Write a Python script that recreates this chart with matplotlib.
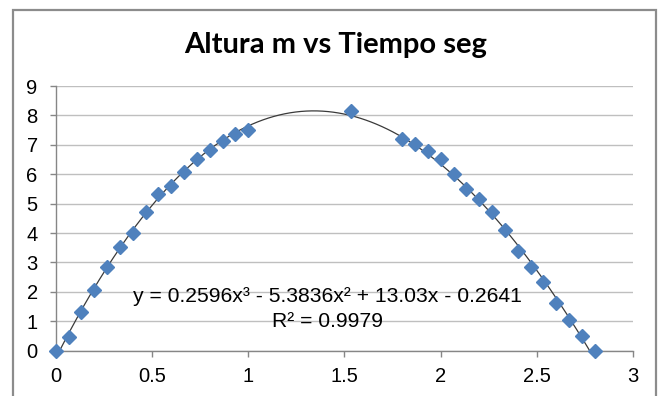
import numpy as np
import matplotlib
matplotlib.use("Agg")
import matplotlib.pyplot as plt
from matplotlib.patches import Rectangle

# Data
tiempo = [0.0, 0.067, 0.133, 0.2, 0.267, 0.333, 0.4, 0.467, 0.533, 0.6, 0.667,
          0.733, 0.8, 0.867, 0.933, 1.0, 1.533,
          1.8, 1.867, 1.933, 2.0, 2.067, 2.133, 2.2, 2.267, 2.333, 2.4,
          2.467, 2.533, 2.6, 2.667, 2.733, 2.8]
altura = [0.0, 0.48, 1.31, 2.06, 2.84, 3.52, 3.99, 4.73, 5.32, 5.61, 6.09,
          6.51, 6.83, 7.13, 7.36, 7.51, 8.15,
          7.20, 7.03, 6.80, 6.51, 6.01, 5.50, 5.15, 4.73, 4.11, 3.40,
          2.84, 2.33, 1.61, 1.04, 0.51, 0.0]
coef = [0.2596, -5.3836, 13.03, -0.2641]
eq_text = "y = 0.2596x³ - 5.3836x² + 13.03x - 0.2641"
r2_text = "R² = 0.9979"
title = "Altura m vs Tiempo seg"
xticks = [0, 0.5, 1, 1.5, 2, 2.5, 3]
xlabels = ["0", "0.5", "1", "1.5", "2", "2.5", "3"]
yticks = list(range(0, 10))

W, H = 666, 396
fig = plt.figure(figsize=(W / 100, H / 100), dpi=100)
fig.patch.set_facecolor("white")

# outer chart border
fig.patches.append(Rectangle((13 / W, -0.05), (656 - 13) / W, 1.05 - 10 / H,
                             transform=fig.transFigure, fill=False,
                             edgecolor="#8c8c8c", linewidth=1.6))

ax = fig.add_axes([55.7 / W, 1 - 350.7 / H, (633.3 - 55.7) / W, (350.7 - 86) / H])
ax.set_xlim(0, 3)
ax.set_ylim(0, 9)

xs = np.linspace(min(tiempo), max(tiempo), 300)
ax.plot(xs, np.polyval(coef, xs), color="#3a3a3a", linewidth=0.9, zorder=2)
ax.plot(tiempo, altura, linestyle="none", marker="D", markersize=7,
        color="#4F81BD", markeredgecolor="#4F81BD", zorder=3, clip_on=False)

ax.set_xticks(xticks)
ax.set_xticklabels(xlabels)
ax.set_yticks(yticks)
ax.yaxis.grid(True, color="#bfbfbf", linewidth=1.0)
ax.set_axisbelow(True)
for s in ["top", "right"]:
    ax.spines[s].set_visible(False)
for s in ["left", "bottom"]:
    ax.spines[s].set_color("#868686")
    ax.spines[s].set_linewidth(1.0)
ax.tick_params(axis="both", direction="out", length=4, width=1.0,
               color="#868686", labelsize=14.5, labelcolor="black")
ax.tick_params(axis="x", pad=8)
ax.tick_params(axis="y", pad=9)
for lab in ax.get_xticklabels() + ax.get_yticklabels():
    lab.set_fontfamily("Liberation Sans")

ax.text(1.41, 1.84, eq_text, ha="center", va="center", fontsize=15.2,
        family="Liberation Sans", color="black")
ax.text(1.41, 0.98, r2_text, ha="center", va="center", fontsize=15.2,
        family="Liberation Sans", color="black")

fig.text(336 / W, 1 - 45 / H, title, ha="center", va="center",
         fontsize=21, fontweight="bold", family="Lato")

fig.savefig("out.png", dpi=100)
